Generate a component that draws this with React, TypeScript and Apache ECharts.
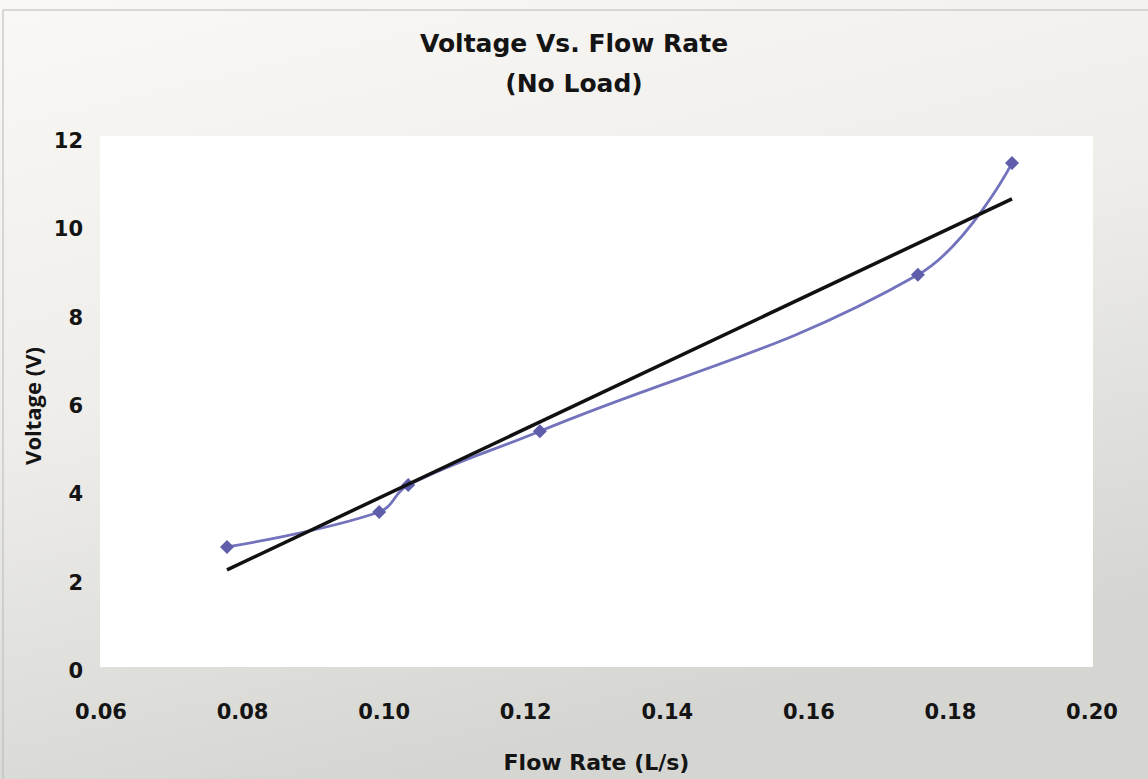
import React, { useEffect, useRef } from "react";
import * as echarts from "echarts";

const flowRate = [0.0778, 0.0993, 0.1034, 0.122, 0.1754, 0.1887];
const voltage = [2.81, 3.6, 4.21, 5.43, 8.97, 11.5];
const trendX = [0.0778, 0.1887];
const trendY = [2.29, 10.69];
const titleLines = ["Voltage Vs. Flow Rate", "(No Load)"];
const xName = "Flow Rate (L/s)";
const yName = "Voltage (V)";

const WIDE = "'DejaVu Sans', sans-serif";
const FONT = "'Open Sans', sans-serif";
const INK = "#141414";

export default function App() {
  const ref = useRef<HTMLDivElement>(null);
  useEffect(() => {
    if (!ref.current) return;
    const chart = echarts.init(ref.current, null, { renderer: "svg" });
    chart.setOption({
      animation: false,
      backgroundColor: new echarts.graphic.LinearGradient(0, 0, 0.35, 1, [
        { offset: 0, color: "#f9f8f4" },
        { offset: 0.5, color: "#eeedea" },
        { offset: 1, color: "#d5d5d2" },
      ]),
      title: {
        text: titleLines.join("\n"),
        left: "center",
        top: 18,
        textStyle: {
          fontFamily: WIDE,
          fontWeight: "bold",
          fontSize: 25,
          lineHeight: 40,
          color: INK,
        },
      },
      graphic: [
        {
          type: "line",
          shape: { x1: 3, y1: 10, x2: 1148, y2: 10 },
          style: { stroke: "#b8b8b8", lineWidth: 1 },
          silent: true,
        },
        {
          type: "line",
          shape: { x1: 3, y1: 10, x2: 3, y2: 779 },
          style: { stroke: "#b8b8b8", lineWidth: 1 },
          silent: true,
        },
        {
          type: "rect",
          shape: { x: 100, y: 136, width: 993, height: 531 },
          style: { fill: "#ffffff" },
          z: -10,
          silent: true,
        },
      ],
      grid: { left: 101, right: 56, top: 141, bottom: 108 },
      xAxis: {
        type: "value",
        min: 0.06,
        max: 0.2,
        interval: 0.02,
        name: xName,
        nameLocation: "middle",
        nameGap: 80,
        nameTextStyle: { fontFamily: WIDE, fontWeight: "bold", fontSize: 22, color: INK },
        axisLine: { show: false },
        axisTick: { show: false },
        splitLine: { show: false },
        axisLabel: {
          margin: 30,
          fontFamily: WIDE,
          fontWeight: "bold",
          fontSize: 21,
          color: INK,
          formatter: (v: number) => v.toFixed(2),
        },
      },
      yAxis: {
        type: "value",
        min: 0,
        max: 12,
        interval: 2,
        name: yName,
        nameLocation: "middle",
        nameGap: 54,
        nameRotate: 90,
        nameTextStyle: { fontFamily: FONT, fontWeight: "bold", fontSize: 22, color: INK },
        axisLine: { show: false },
        axisTick: { show: false },
        splitLine: { show: false },
        axisLabel: {
          margin: 18,
          fontFamily: WIDE,
          fontWeight: "bold",
          fontSize: 21,
          color: INK,
        },
      },
      series: [
        {
          type: "line",
          data: flowRate.map((x, i) => [x, voltage[i]]),
          smooth: 0.4,
          symbol: "diamond",
          symbolSize: 14,
          lineStyle: { color: "#7272bd", width: 2.8 },
          itemStyle: { color: "#5e5eab" },
          z: 2,
        },
        {
          type: "line",
          data: trendX.map((x, i) => [x, trendY[i]]),
          symbol: "none",
          lineStyle: { color: "#111111", width: 3.5 },
          z: 3,
        },
      ],
    });
    return () => chart.dispose();
  }, []);
  return (
    <div
      ref={ref}
      style={{ position: "absolute", left: 0, top: 0, width: 1148, height: 779 }}
    />
  );
}
